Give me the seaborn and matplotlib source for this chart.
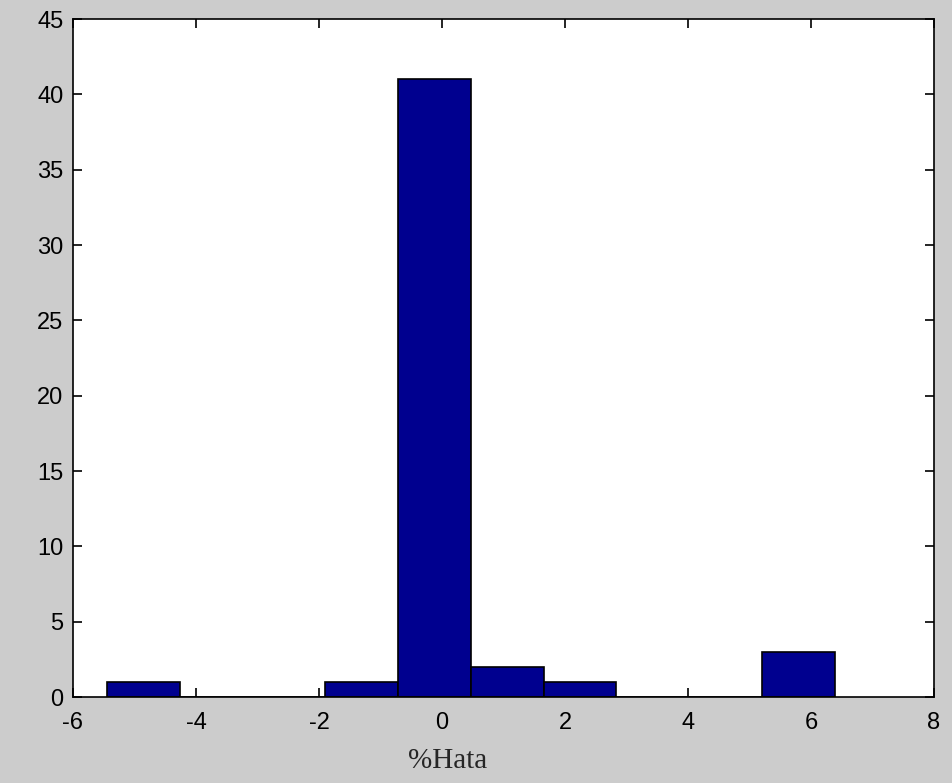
import numpy as np
import matplotlib
matplotlib.use("Agg")
import matplotlib.pyplot as plt
import seaborn as sns

# histogram bins (10 equal bins, MATLAB hist style)
bin_edges = [-5.45, -4.266, -3.082, -1.898, -0.714, 0.47, 1.654, 2.838, 4.022, 5.206, 6.39]
counts = [1, 0, 0, 1, 41, 2, 1, 0, 0, 3]
x_ticks = [-6, -4, -2, 0, 2, 4, 6, 8]
y_ticks = [0, 5, 10, 15, 20, 25, 30, 35, 40, 45]
x_label = "%Hata"

centers = [(a + b) / 2 for a, b in zip(bin_edges[:-1], bin_edges[1:])]

sns.set_style("white")
fig = plt.figure(figsize=(9.53, 7.83), dpi=100, facecolor="#cccccc")
ax = fig.add_axes([0.0766, 0.1098, 0.9034, 0.8659])

sns.histplot(x=centers, weights=counts, bins=bin_edges, color="#00008f",
             edgecolor="black", linewidth=1.2, alpha=1, ax=ax)

ax.set_xlim(-6, 8)
ax.set_ylim(0, 45)
ax.set_xticks(x_ticks)
ax.set_yticks(y_ticks)
ax.set_xticklabels([str(t) for t in x_ticks], family="Liberation Sans", fontsize=17)
ax.set_yticklabels([str(t) for t in y_ticks], family="Liberation Sans", fontsize=17)
ax.tick_params(direction="in", length=6.5, width=1.2, top=True, right=True,
               bottom=True, left=True, colors="black")
ax.tick_params(axis="y", pad=7)
ax.tick_params(axis="x", pad=11)
ax.set_ylabel("")
ax.set_xlabel(x_label, family="Liberation Serif", fontsize=21)
ax.xaxis.label.set_va("center")
ax.xaxis.set_label_coords(0.435, -0.094)
for s in ax.spines.values():
    s.set_color("black")
    s.set_linewidth(1.2)
ax.set_facecolor("white")

fig.savefig("out.png", dpi=100, facecolor=fig.get_facecolor())
